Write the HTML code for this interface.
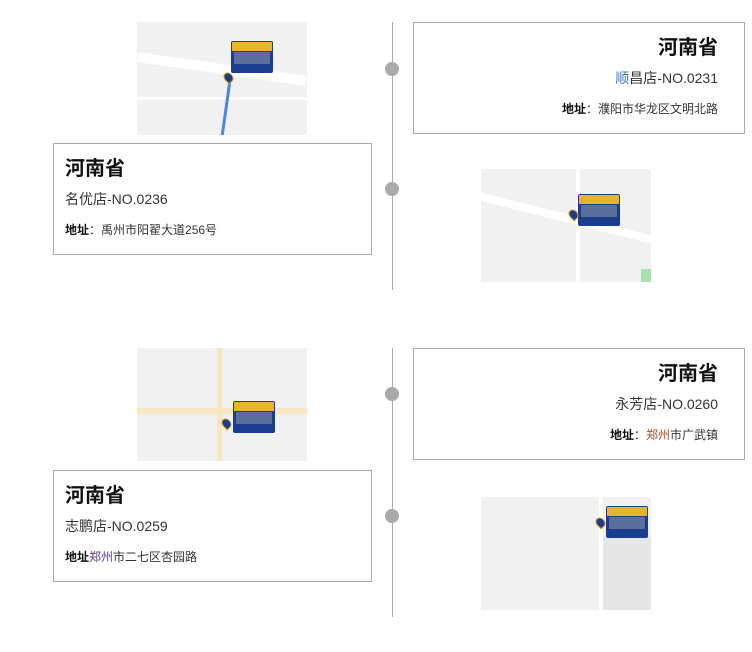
<!DOCTYPE html>
<html><head><meta charset="utf-8"><style>
body{margin:0;width:752px;height:652px;background:#fff;position:relative;font-family:"Liberation Sans","Noto Sans CJK SC",sans-serif;color:#333;overflow:hidden}
.line{position:absolute;left:392px;width:1px;background:#aaa}
.dot{position:absolute;left:385px;width:14px;height:14px;border-radius:50%;background:#aaa}
.card{position:absolute;border:1px solid #aaa;box-sizing:border-box;background:#fff}
.card h2{margin:0;font-size:20px;line-height:26px;font-weight:bold;color:#111}
.card .n{font-size:14px;line-height:18px;color:#333;margin-top:8px}
.card .a{font-size:12px;line-height:16px;color:#333;margin-top:14px}
.card .a b{color:#111}
.r{text-align:right;padding:12px 26px 0 0}
.l{text-align:left;padding:12px 0 0 11px}
.map{position:absolute;width:170px;height:113px;background:#f1f1f1;overflow:hidden}
.road{position:absolute;background:#fff}
.th{position:absolute;width:42px;height:32px;background:#1b3d8f;border-radius:2px;overflow:hidden}
.th:before{content:"";position:absolute;left:1px;top:1px;right:1px;height:9px;background:#e9b42a}
.th:after{content:"";position:absolute;left:3px;top:11px;right:3px;height:12px;background:#5a6f9a}
.pin{position:absolute;width:7px;height:9px;border-radius:50% 50% 50% 0;background:#1b3d8f;border:1px solid #d9a020;transform:rotate(-45deg)}
</style></head><body>
<div class="line" style="top:22px;height:268px"></div>
<div class="line" style="top:348px;height:269px"></div>
<div class="dot" style="top:62px"></div>
<div class="dot" style="top:182px"></div>
<div class="dot" style="top:387px"></div>
<div class="dot" style="top:509px"></div>

<div class="map" style="left:137px;top:22px">
<div class="road" style="left:0;top:42px;width:170px;height:10px;transform:rotate(8deg)"></div>
<div class="road" style="left:-10px;top:75px;width:190px;height:3px"></div>
<div style="position:absolute;left:87px;top:60px;width:3px;height:60px;background:#4a86e8;transform:rotate(8deg)"></div>
<div class="th" style="left:94px;top:19px"></div><div class="pin" style="left:87px;top:50px"></div>
</div>
<div class="card r" style="left:413px;top:22px;width:332px;height:112px"><h2>河南省</h2><div class="n"><span style="color:#3a6fc8">顺</span>昌店-NO.0231</div><div class="a"><b>地址</b>：濮阳市华龙区文明北路</div></div>
<div class="card l" style="left:53px;top:143px;width:319px;height:112px"><h2>河南省</h2><div class="n">名优店-NO.0236</div><div class="a"><b>地址</b>：禹州市阳翟大道256号</div></div>
<div class="map" style="left:481px;top:169px">
<div class="road" style="left:-10px;top:45px;width:190px;height:8px;transform:rotate(14deg)"></div>
<div class="road" style="left:95px;top:0;width:4px;height:113px"></div>
<div style="position:absolute;left:160px;top:100px;width:10px;height:13px;background:#a8e0b0"></div>
<div class="th" style="left:97px;top:25px"></div><div class="pin" style="left:88px;top:40px"></div>
</div>

<div class="map" style="left:137px;top:348px">
<div class="road" style="left:0;top:60px;width:170px;height:6px;background:#f7e7c0"></div>
<div class="road" style="left:80px;top:0;width:5px;height:113px;background:#f7e7c0"></div>
<div class="th" style="left:96px;top:53px"></div><div class="pin" style="left:85px;top:70px"></div>
</div>
<div class="card r" style="left:413px;top:348px;width:332px;height:112px"><h2>河南省</h2><div class="n">永芳店-NO.0260</div><div class="a"><b>地址</b>：<span style="color:#a0522d">郑州</span>市广武镇</div></div>
<div class="card l" style="left:53px;top:470px;width:319px;height:112px"><h2>河南省</h2><div class="n">志鹏店-NO.0259</div><div class="a"><b>地址</b><span style="color:#5a3a8a">郑州</span>市二七区杏园路</div></div>
<div class="map" style="left:481px;top:497px">
<div class="road" style="left:118px;top:0;width:4px;height:113px"></div>
<div style="position:absolute;left:122px;top:40px;width:48px;height:73px;background:#e6e6e6"></div>
<div class="th" style="left:125px;top:9px"></div><div class="pin" style="left:115px;top:20px"></div>
</div>
</body></html>
